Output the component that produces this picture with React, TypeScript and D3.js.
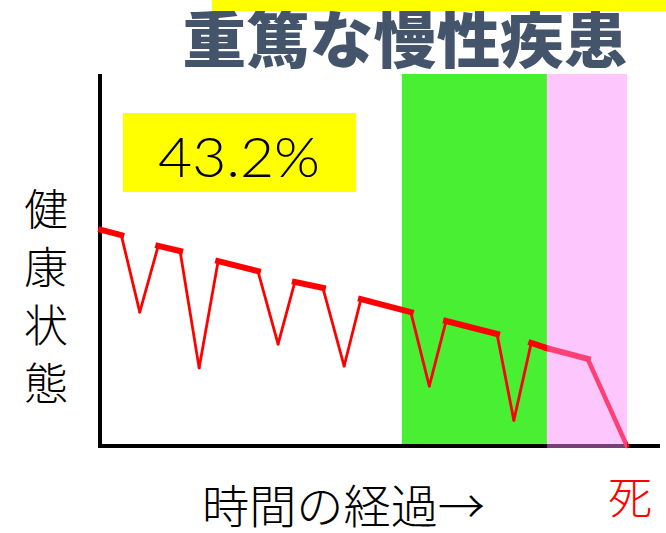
import * as d3 from "d3";

// ── Data ──────────────────────────────────────────────────────────────
// time axis 0..100, health axis 0..100
const TIME   = [0.2, 3.8, 7.1, 10.4, 14.3, 17.7, 21.1, 28.2, 31.8, 34.8, 39.8, 43.6, 46.6, 55.5, 58.8, 61.8, 70.9, 73.9, 77.0, 79.8, 87.1, 94.1];
const HEALTH = [58.1, 56.7, 36.0, 53.8, 52.4, 21.0, 49.7, 47.0, 27.4, 44.1, 42.5, 21.5, 39.5, 36.0, 16.1, 33.6, 30.1, 6.9, 27.7, 26.3, 23.4, 0];
// kind of each segment between consecutive points
const SEG_KIND = [
  "plateau", "drop", "rise", "plateau", "drop", "rise", "plateau", "drop", "rise",
  "plateau", "drop", "rise", "plateau", "drop", "rise", "plateau", "drop", "rise",
  "plateau", "plateau", "final",
];

const BANDS = [
  { label: "severe", from: 53.9, to: 79.8 },
  { label: "terminal", from: 79.8, to: 94.1 },
];

const TITLE = "重篤な慢性疾患";
const RATE = "43.2%";
const Y_LABEL = "健康状態";
const X_LABEL = "時間の経過→";
const END_LABEL = "死";

const W = 666;
const H = 533;
const PLOT = { left: 100, right: 660, top: 74, bottom: 446 };

const JP = "'Noto Sans CJK JP', 'Noto Sans', sans-serif";

export default function App() {
  const x = d3.scaleLinear().domain([0, 100]).range([PLOT.left, PLOT.right]);
  const y = d3.scaleLinear().domain([0, 100]).range([PLOT.bottom, PLOT.top]);

  const pts = TIME.map((t, i) => [t, HEALTH[i]] as [number, number]);
  const line = d3.line<[number, number]>().x((d) => x(d[0])).y((d) => y(d[1]));

  const segs = SEG_KIND.map((kind, i) => ({ kind, d: line([pts[i], pts[i + 1]]) as string }));

  const [green, pink] = BANDS;

  return (
    <svg width={W} height={H} style={{ position: "absolute", left: 0, top: 0, background: "#fff" }}>
      {/* title */}
      <text
        x={405}
        y={63}
        textAnchor="middle"
        fontFamily={JP}
        fontWeight={900}
        fontSize={62}
        fill="#44546a"
        textLength={445}
        lengthAdjust="spacingAndGlyphs"
      >
        {TITLE}
      </text>
      <rect x={212} y={0} width={454} height={11} fill="#ffff00" />

      {/* green band (under the line) */}
      <rect
        x={x(green.from)}
        y={PLOT.top}
        width={x(green.to) - x(green.from)}
        height={PLOT.bottom - PLOT.top}
        fill="#48ef32"
      />

      {/* axes */}
      <line x1={PLOT.left} x2={PLOT.left} y1={PLOT.top} y2={PLOT.bottom + 2} stroke="#000" strokeWidth={4} />
      <line x1={PLOT.left - 2} x2={PLOT.right} y1={PLOT.bottom} y2={PLOT.bottom} stroke="#000" strokeWidth={4} />

      {/* health line */}
      {segs.map((s, i) => (
        <path
          key={i}
          d={s.d}
          fill="none"
          stroke="#ff0000"
          strokeWidth={s.kind === "plateau" ? 6 : s.kind === "final" ? 4.5 : 2.8}
          strokeLinecap={s.kind === "plateau" ? "square" : "round"}
          strokeLinejoin="round"
        />
      ))}

      {/* terminal band (translucent, over the line and axis) */}
      <rect
        x={x(pink.from)}
        y={PLOT.top}
        width={x(pink.to) - x(pink.from)}
        height={PLOT.bottom - PLOT.top + 2}
        fill="rgb(251,137,251)"
        fillOpacity={0.47}
      />

      {/* rate box */}
      <rect x={123} y={113} width={233} height={79} fill="#ffff00" />
      <text
        x={158}
        y={177}
        fontFamily="Lato, 'DejaVu Sans', sans-serif"
        fontWeight={300}
        fontSize={55}
        fill="#000"
        textLength={162}
        lengthAdjust="spacingAndGlyphs"
      >
        {RATE}
      </text>

      {/* y label, vertical */}
      {Array.from(Y_LABEL).map((ch, i) => (
        <text
          key={ch}
          x={46}
          y={207 + i * 58}
          textAnchor="middle"
          dominantBaseline="central"
          fontFamily={JP}
          fontWeight={300}
          fontSize={44}
          fill="#000"
        >
          {ch}
        </text>
      ))}

      {/* x label */}
      <text
        x={202}
        y={503}
        dominantBaseline="central"
        fontFamily={JP}
        fontWeight={300}
        fontSize={46}
        fill="#000"
        textLength={283}
        lengthAdjust="spacingAndGlyphs"
      >
        {X_LABEL}
      </text>
      <text
        x={630}
        y={495}
        textAnchor="middle"
        dominantBaseline="central"
        fontFamily={JP}
        fontWeight={300}
        fontSize={44}
        fill="#ff0000"
      >
        {END_LABEL}
      </text>
    </svg>
  );
}
